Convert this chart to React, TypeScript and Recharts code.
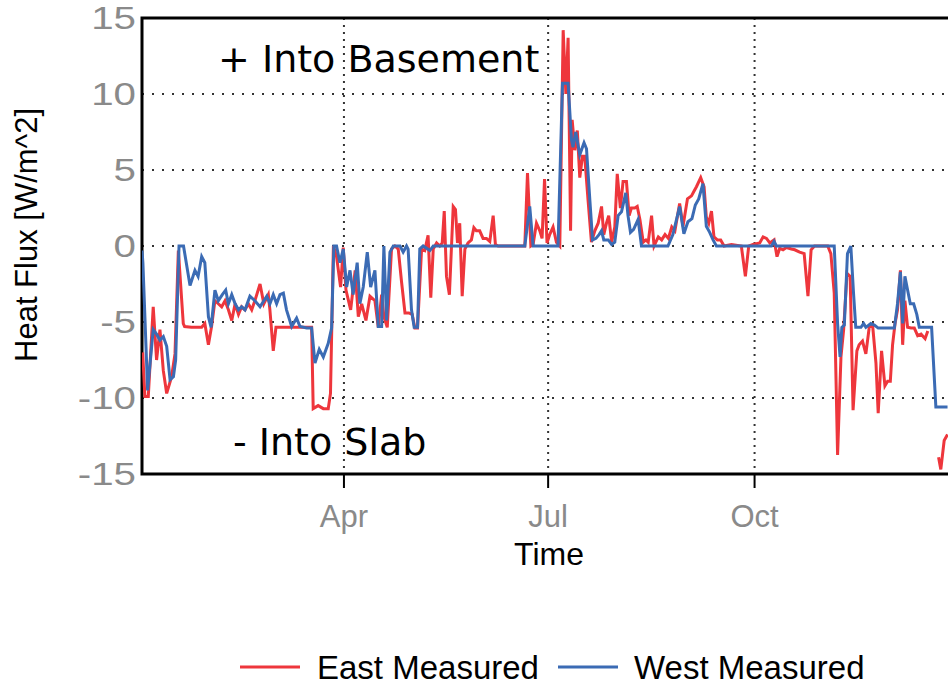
import React from 'react';
import {
  LineChart,
  Line,
  XAxis,
  YAxis,
  CartesianGrid,
  ReferenceArea,
} from 'recharts';

// day of year, W/m^2  (null = missing data)
const eastMeasured: [number, number | null][] = [
  [0.3, -7.0], [1.3, -9.9], [2.8, -9.9], [5.0, -4.0], [6.5, -7.5], [8.0, -5.5], [9.5, -8.2],
  [11.0, -9.7], [13.2, -8.6], [14.7, -7.1], [16.2, -0.3], [18.4, -5.1], [19.0, -5.3], [22, -5.35],
  [26.6, -5.35], [28, -5.1], [29.6, -6.5], [31, -5.3], [32.5, -3.6], [34, -3.8], [35.5, -4.0],
  [37, -3.6], [38.5, -4.2], [40, -4.9], [41.5, -3.8], [43, -4.5], [44.4, -4.0], [45.9, -4.2],
  [47.4, -3.8], [48.9, -4.2], [50.3, -3.6], [52.6, -2.5], [54.3, -3.8], [56.3, -3.2], [57.0, -4.2],
  [58.5, -6.9], [59.7, -5.35], [75.6, -5.35], [76.3, -10.7], [78.5, -10.5], [80.8, -10.7],
  [83, -10.7], [84, -9.7], [85.3, 0], [86.7, -0.7], [88.5, -2.7], [89.7, -0.1], [90.9, -2.9],
  [93, -4.2], [95, -1.6], [96.4, -4.65], [97.9, -3.8], [99.8, -4.9], [101.6, -3.3], [103.8, -3.6],
  [105.3, -5.35], [106.8, -3.2], [107.8, -4.65], [109.3, -5.35], [111.2, -0.2], [112.7, 0],
  [114.2, -0.2], [115.7, -2.4], [117.2, -4.4], [118.9, -4.4], [120.4, -4.5], [121.6, -5.4],
  [122.8, -5.4], [124.6, -0.2], [126, -0.3], [127.5, 0.7], [128.7, -3.4], [129.8, -0.2],
  [131.3, 0.2], [132.7, 0], [133.8, 0.2], [134.7, 2.3], [135.7, -2.0], [137, -3.2], [138.7, 2.6],
  [139.7, 2.4], [140.6, 0.2], [141.6, 1.5], [142.7, -3.3], [143.9, -0.2], [145.3, 0.2],
  [146.8, 0.4], [147.9, 1.2], [149, 1.0], [150.5, 1.0], [152, 0.5], [153.5, 0.5], [155, 0.3],
  [156.5, 2.0], [157.5, 0.1], [158.7, 0], [170.6, 0], [171.8, 4.8], [173.3, 0], [174.3, 0.1],
  [175.8, 1.5], [177.3, 1.0], [178.3, 0.5], [179.4, 4.4], [180.5, 0.2], [181.7, 0.75],
  [183.2, 1.25], [184.7, 0.25], [186.2, 0], [187.7, 14.2], [188.9, 10.0], [189.9, 13.7],
  [191, 1.0], [191.7, 8.3], [192.9, 6.3], [194, 7.6], [195.1, 4.5], [196.3, 5.9], [197.3, 5.9],
  [198.8, 3.0], [200.3, 0.25], [201.8, 1.0], [203.3, 1.5], [204.8, 2.6], [205.8, 0.75], [207, 1.5],
  [208, 2.0], [209.3, 0.25], [210.7, 1.25], [211.8, 4.75], [213.2, 2.5], [214.4, 4.25],
  [215.9, 4.25], [217.1, 2.0], [218.1, 2.5], [219.6, 2.5], [220.7, 2.6], [221.9, 1.75],
  [223.4, 0.25], [224.6, 0.4], [225.6, 0.25], [227.1, 2.0], [228.2, 0], [230.1, 0.6],
  [231.6, 0.4], [233.1, 0.75], [234.6, 0.5], [236.1, 1.25], [237.5, 1.0], [239.6, 2.8],
  [241.1, 1.3], [243.1, 3.1], [244.9, 3.3], [246, 3.6], [247.1, 3.9], [249, 4.5], [250.5, 3.9],
  [251.5, 1.9], [252.6, 1.5], [253.8, 2.3], [254.9, 0.6], [256.4, 0.4], [257.9, 0.4], [259.4, 0],
  [262.7, 0.1], [267.1, 0], [268.9, -2.0], [270.4, 0], [272.3, 0.1], [275.3, 0.2], [276.8, 0.6],
  [278.3, 0.5], [279.8, 0.2], [281.7, 0.4], [283, -0.7], [284.2, -0.15], [285.7, -0.25],
  [287.2, -0.1], [289.4, -0.2], [290.9, -0.25], [293.1, -0.4], [295.1, -0.5], [296.8, -3.3],
  [298.2, -0.25], [299.7, 0], [305.6, 0], [307, -0.5], [308.5, -3.1], [310, -13.75],
  [311.5, -7.3], [312.7, -5.5], [314.2, -1.8], [315.6, -2.0], [316.9, -10.8], [318.6, -6.9],
  [319.6, -6.5], [321.1, -6.25], [322.6, -7.1], [324.1, -5.35], [325.6, -5.2], [327.1, -7.7],
  [328.1, -11.0], [329.6, -6.9], [331.1, -9.2], [332.3, -8.9], [333.5, -8.9], [334.5, -6.5],
  [335.6, -5.1], [336.7, -4.2], [338, -1.6], [339, -6.5], [340, -3.6], [341.2, -5.35],
  [342.7, -5.4], [344.2, -5.4], [345.7, -5.9], [347.2, -5.8], [349, -6.1], [350.2, -5.6],
  [352, null], [355, -13.9], [356, -14.7], [357.5, -12.8], [359, -12.4],
];

const westMeasured: [number, number | null][] = [
  [0, -0.3], [0.4, -1.1], [2.5, -9.5], [5, -5.5], [6.5, -5.8], [8, -6.2], [9.5, -5.96], [11, -6.6],
  [12.5, -8.8], [14, -8.6], [15, -7.5], [16.5, 0], [18.5, 0], [21.4, -2.6], [23.6, -1.6], [25, -2.0],
  [26.6, -0.7], [28, -1.1], [29.6, -4.65], [30.8, -5.35], [32.5, -2.9], [34, -3.6], [35.8, -3.2],
  [37.3, -2.9], [38.5, -3.8], [40, -3.2], [41.5, -3.8], [43, -4.2], [44.4, -4.0], [45.9, -4.2],
  [48.1, -3.3], [50.3, -3.6], [52.6, -4.0], [55.6, -3.3], [57, -3.8], [58.5, -3.2], [60, -3.8],
  [61.5, -3.2], [63, -3.1], [64.4, -4.2], [66.7, -5.3], [68.9, -4.75], [70.4, -5.3], [73.4, -5.4],
  [75.6, -5.4], [77.1, -7.7], [79, -6.8], [80.8, -7.3], [83, -6.4], [84.5, -5.4], [85.5, 0],
  [86.7, 0], [88.2, -1.1], [89.7, -0.2], [91.2, -2.7], [92.7, -1.6], [94.1, -3.2], [95.9, -1.1],
  [97.1, -3.8], [98.6, -2.7], [100.4, -0.4], [101.9, -2.7], [103.8, -1.6], [105.3, -5.3],
  [106.8, -5.3], [107.8, 0], [109, -4.9], [110.5, -0.4], [112, 0], [115, 0], [116.4, -0.4],
  [117.9, 0], [118.6, -0.2], [120.1, -4.2], [121.3, -5.35], [122.8, -5.35], [123.8, -0.2],
  [125.3, 0], [128.3, -0.3], [129.8, 0], [170.6, 0], [172.8, 2.6], [174.3, 0], [185.4, 0],
  [187.4, 10.7], [189.9, 10.7], [191.4, 7.0], [192.1, 6.5], [193.3, 7.5], [195.1, 6.0], [197, 6.8],
  [198.1, 6.4], [199.6, 3.0], [200.8, 0.4], [202.3, 0.5], [203.7, 0.75], [204.8, 1.0], [205.8, 0.4],
  [207.8, 0.4], [209.3, 0.1], [210.7, 0.25], [212.2, 2.0], [213.7, 2.25], [215.6, 3.5],
  [216.6, 2.0], [217.7, 0.9], [219.1, 1.1], [221.1, 1.75], [222.6, 0], [234.4, 0], [236.6, 0.75],
  [239.6, 2.6], [241.5, 0.8], [243.3, 1.6], [245.1, 1.8], [246.6, 2.7], [248.1, 3.1], [250, 4.1],
  [251.5, 1.3], [253, 0.9], [254.5, 0.4], [256, 0], [280.5, 0], [281.7, 0.3], [282.7, 0],
  [308.5, 0], [310, -5.1], [311.1, -7.3], [311.9, -5.35], [313, -5.2], [314.4, -0.5], [315.9, 0],
  [317.1, -3.1], [318.1, -5.35], [320.4, -5.35], [321.6, -5.1], [322.6, -5.35], [324.8, -5.1],
  [326.4, -5.2], [328.1, -5.4], [335.3, -5.4], [336.7, -3.8], [338, -1.7], [339, -5.1], [340, -2.0],
  [341.2, -2.9], [342.4, -3.8], [343.9, -3.8], [345.3, -4.5], [346.4, -5.35], [351.9, -5.35],
  [353.8, -10.6], [359, -10.6],
];

const monthTicks = [90, 181, 273];
const monthLabels = ['Apr', 'Jul', 'Oct'];
const fluxTicks = [-15, -10, -5, 0, 5, 10, 15];

const EAST_COLOR = '#ee363c';
const WEST_COLOR = '#3b6bb4';
const TICK_GRAY = '#8a8a8a';
const SANS = '"Liberation Sans", Arial, sans-serif';
const NOTE_FONT = '"DejaVu Sans", Verdana, sans-serif';

const toRows = (pts: [number, number | null][]) => pts.map(([day, flux]) => ({ day, flux }));

function MonthTick({ x, payload }: any) {
  const i = monthTicks.indexOf(payload.value);
  return (
    <text x={x} y={527} textAnchor="middle" fill={TICK_GRAY} fontSize={31} fontFamily={SANS}>
      {monthLabels[i] ?? ''}
    </text>
  );
}

function FluxTick({ y, payload }: any) {
  const x = 136;
  return (
    <text
      x={x}
      y={y}
      textAnchor="end"
      dominantBaseline="central"
      fill={TICK_GRAY}
      fontSize={31}
      fontFamily={SANS}
      transform={`translate(${x} 0) scale(1.3 1) translate(${-x} 0)`}
    >
      {payload.value}
    </text>
  );
}

const hGrid = (p: any) => (
  <line key={p.key} x1={p.x1} y1={p.y1} x2={p.x2} y2={p.y2} stroke="#333" strokeWidth={2} strokeDasharray="2 8" />
);
const vGrid = (p: any) => (
  <line key={p.key} x1={p.x1} y1={p.y1} x2={p.x2} y2={p.y2} stroke="#333" strokeWidth={2} strokeDasharray="2 5" />
);

export default function App() {
  const east = toRows(eastMeasured);
  const west = toRows(westMeasured);

  return (
    <div
      style={{
        position: 'fixed',
        left: 0,
        top: 0,
        width: 948,
        height: 685,
        overflow: 'hidden',
        background: '#fff',
      }}
    >
      <LineChart width={980} height={685} margin={{ top: 18, right: 19, left: 0, bottom: 121 }}>
        <CartesianGrid horizontal={hGrid} vertical={vGrid} />
        <XAxis
          dataKey="day"
          type="number"
          domain={[0, 365]}
          ticks={monthTicks}
          allowDataOverflow
          height={90}
          tickSize={14}
          tickLine={{ stroke: '#000', strokeWidth: 2 }}
          axisLine={false}
          tick={<MonthTick />}
        />
        <YAxis
          type="number"
          domain={[-15, 15]}
          ticks={fluxTicks}
          allowDataOverflow
          width={142}
          tickLine={false}
          axisLine={false}
          tick={<FluxTick />}
        />
        <ReferenceArea x1={0} x2={365} y1={-15} y2={15} fill="none" stroke="#000" strokeWidth={3} />
        <Line
          data={east}
          dataKey="flux"
          name="East Measured"
          stroke={EAST_COLOR}
          strokeWidth={3}
          dot={false}
          type="linear"
          isAnimationActive={false}
        />
        <Line
          data={west}
          dataKey="flux"
          name="West Measured"
          stroke={WEST_COLOR}
          strokeWidth={3}
          dot={false}
          type="linear"
          isAnimationActive={false}
        />
      </LineChart>

      <svg
        width={948}
        height={685}
        style={{ position: 'absolute', left: 0, top: 0, pointerEvents: 'none' }}
      >
        <text x={218} y={72} fontSize={38} fontFamily={NOTE_FONT} fill="#000">
          + Into Basement
        </text>
        <text x={233} y={455} fontSize={38} fontFamily={NOTE_FONT} fill="#000">
          - Into Slab
        </text>
        <text x={549} y={565} textAnchor="middle" fontSize={32} fontFamily={SANS} fill="#000">
          Time
        </text>
        <text
          x={0}
          y={0}
          transform="translate(37 235) rotate(-90)"
          textAnchor="middle"
          fontSize={31}
          fontFamily={SANS}
          fill="#000"
        >
          Heat Flux [W/m^2]
        </text>
        <line x1={240} y1={667} x2={300} y2={667} stroke={EAST_COLOR} strokeWidth={3} />
        <text x={317} y={679} fontSize={33} fontFamily={SANS} fill="#000">
          East Measured
        </text>
        <line x1={558} y1={667} x2={618} y2={667} stroke={WEST_COLOR} strokeWidth={3} />
        <text x={634} y={679} fontSize={33} fontFamily={SANS} fill="#000">
          West Measured
        </text>
      </svg>
    </div>
  );
}
